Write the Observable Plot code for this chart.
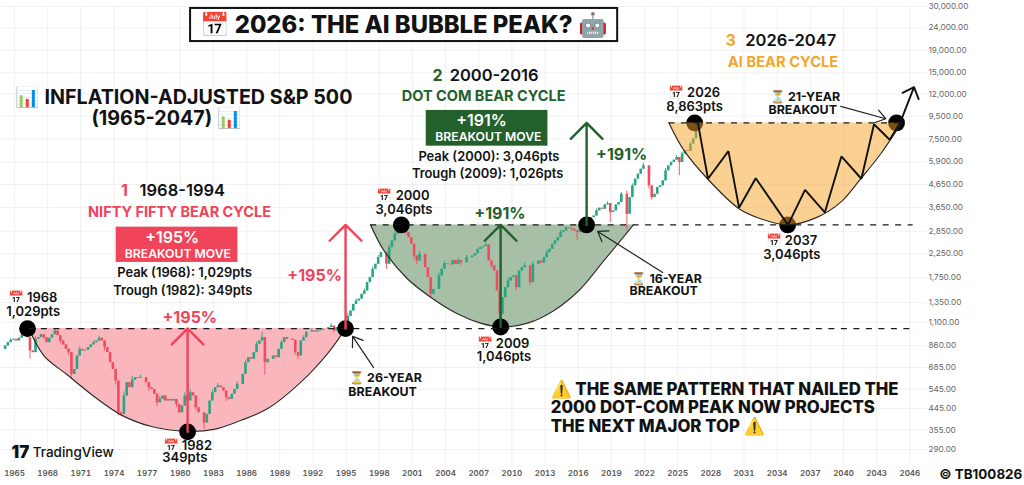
<!DOCTYPE html>
<html>
<head>
<meta charset="utf-8">
<script src="https://cdn.jsdelivr.net/npm/d3@7"></script>
<script src="https://cdn.jsdelivr.net/npm/@observablehq/plot@0.6"></script>
<style>
html,body{margin:0;padding:0;background:#fff}
svg{display:block}
</style>
</head>
<body>
<div id="chart"></div>
<script>
const yTicks = [30000,24000,19000,15000,12000,9500,7500,5900,4650,3650,2850,2250,1750,1350,1100,860,685,545,445,355,290];
const xTicks = [1965,1968,1971,1974,1977,1980,1983,1986,1989,1992,1995,1998,2001,2004,2007,2010,2013,2016,2019,2022,2025,2028,2031,2034,2037,2040,2043,2046];

const firstQuarter = 1963.9;
const closes = [
828,858,888,910,920,904,930,956,965,936,814,800,920,936,965,936,888,930,965,1004,
956,904,867,828,800,637,671,772,828,814,820,843,867,888,904,930,904,843,800,720,
671,594,426,419,508,584,554,600,615,610,615,615,584,554,544,517,473,490,508,482,
490,482,490,465,426,457,508,482,526,508,449,426,426,383,419,482,526,554,564,554,
535,499,490,517,544,574,574,637,720,759,746,800,873,904,936,720,746,746,772,759,
828,888,936,920,920,910,800,772,904,936,992,992,1004,992,1004,1012,1022,1022,1040,1057,
1004,1040,1004,1022,1057,1170,1237,1325,1373,1400,1473,1525,1665,1755,1915,2017,2163,2280,2280,2017,
2402,2576,2762,2810,2910,2860,2810,2667,2487,2200,2089,2240,2240,1948,1755,1473,1550,1550,1785,1915,
2030,2017,2005,2100,2017,2100,2050,2050,2163,2163,2200,2255,2360,2402,2430,2470,2089,1985,1880,1525,
1194,1420,1579,1694,1755,1785,1579,1880,1948,1985,1985,1665,2017,2017,2089,2040,2163,2280,2360,2487,
2576,2667,2810,2860,2962,2940,2910,2860,2810,2910,3015,3067,3176,3289,3345,3528,3630,3590,3757,3810,
3465,3528,3757,3850,4202,4202,3406,4057,4585,4920,5183,5460,5655,5655,4585,4057,4202,4506,4585,4832,
5367,5655,5860,6000,6173,5860,6393,6620,6570,7100,7500,8400
];
const lowWicks = [[10,748],[15,915],[21,880],[24,775],[25,615],[37,815],[41,570],[42,412],[53,535],[56,455],[63,450],[70,435],[73,358],[81,480],[95,631],[106,780],[107,746],[120,985],[139,1915],[146,2740],[149,2120],[150,2010],[155,1420],[166,1990],[177,1930],[180,1046],[186,1530],[191,1620],[206,2850],[208,2576],[220,3120],[226,2860],[234,4430],[235,3950],[245,5100]];
const highWicks = [[3,925],[7,985],[12,945],[19,1030],[28,850],[33,905],[35,950],[44,530],[47,625],[50,632],[57,505],[66,525],[68,545],[76,540],[78,580],[85,590],[88,740],[92,895],[94,992],[101,910],[109,955],[112,1030],[119,1085],[125,1210],[128,1400],[131,1560],[134,1960],[136,2210],[140,2460],[142,2830],[144,2990],[151,2310],[158,1840],[160,2080],[165,2150],[168,2210],[175,2540],[183,1750],[189,2050],[192,2080],[197,2340],[202,2880],[210,3070],[212,3240],[215,3600],[219,3880],[224,4280],[226,4351],[228,4680],[232,5800],[240,5500],[244,6300],[246,6520],[249,7250]];

const bowl1 = [[1966.30,1029],[1967.65,776],[1969.77,634],[1972.48,493],[1974.59,418],[1977.31,370],[1980.63,351],[1983.04,358],[1985.45,393],[1987.87,444],[1990.88,586],[1993.30,790],[1994.95,1029]];
const bowl2 = [[1997.22,3046],[1998.42,2331],[2000.54,1734],[2002.65,1429],[2005.06,1202],[2007.17,1089],[2008.98,1046],[2011.40,1089],[2013.81,1244],[2016.22,1562],[2018.33,2100],[2019.84,2589],[2020.99,3046]];
const bowl3 = [[2024.21,8863],[2025.57,6645],[2027.69,4941],[2030.55,3610],[2032.51,3250],[2034.98,3046],[2037.64,3304],[2039.75,3866],[2041.56,4941],[2043.37,6420],[2045.24,8863]];
const zigzag = [[2026.84,8800],[2027.74,4941],[2029.59,6600],[2030.55,3650],[2032.06,4970],[2034.98,3046],[2036.52,4400],[2038.31,3472],[2039.81,6240],[2041.62,4941],[2042.76,8745],[2044.18,7430],[2045.12,8863]];
const pivots = [[1966.18,1029],[1980.66,349],[1994.95,1029],[2000.0,3046],[2008.98,1046],[2016.76,3046],[2026.54,8863],[2034.95,3046],[2044.8,8863]];

const redArrows = [[1980.66,349,1980.66,1029],[1994.95,1029,1994.95,3046]];
const greenArrows = [[2008.98,1046,2008.98,3046],[2016.76,3046,2016.76,8863]];
const thinArrows = [[1997.49,684,1995.59,948],[2023.64,1852,2017.76,2845],[2039.75,10535,2043.82,9263]];
const necks = [[1966.3,1029,2046.6],[1997.22,3046,2046.3],[2024.21,8863,2045.2]];

const headline = [[2000.20,24586,"📅 2026: THE AI BUBBLE PEAK? 🤖"]];
const subhead = [[1980.30,11490,"📊 INFLATION-ADJUSTED S&P 500"],[1978.76,9263,"(1965-2047) 📊"]];
const warning = [[2013.51,542,"⚠️ THE SAME PATTERN THAT NAILED THE"],[2013.51,451,"2000 DOT-COM PEAK NOW PROJECTS"],[2013.51,370,"THE NEXT MAJOR TOP ⚠️"]];
const cycleYears = [[1980.18,4338,"1968-1994"],[2008.39,14576,"2000-2016"],[2035.23,20880,"2026-2047"]];
const redLabels = [[1974.95,4338,"1",16],[1979.93,3461,"NIFTY FIFTY BEAR CYCLE",14.5],[1992.15,1795,"+195%",16],[1980.86,1147,"+195%",16]];
const greenLabels = [[2003.28,14576,"2",16],[2007.44,11700,"DOT COM BEAR CYCLE",14.5],[2019.93,6353,"+191%",16],[2008.92,3425,"+191%",16]];
const orangeLabels = [[2029.8,20880,"3",16],[2034.53,16655,"AI BEAR CYCLE",14.7]];
const whiteBig = [[1979.27,2652,"+195%"],[2007.26,9033,"+191%"]];
const whiteSmall = [[1979.78,2252,"BREAKOUT MOVE"],[2007.87,7637,"BREAKOUT MOVE"]];
const stats = [[1980.38,1846,"Peak (1968): 1,029pts"],[1980.23,1523,"Trough (1982): 349pts"],[2007.92,6193,"Peak (2000): 3,046pts"],[2007.80,5207,"Trough (2009): 1,026pts"]];
const pivotLabels = [[1966.63,1415,"📅 1968"],[1966.69,1231,"1,029pts"],[1980.63,302.5,"📅 1982"],[1980.41,265,"349pts"],[2000.14,4117,"📅 2000"],[2000.23,3582,"3,046pts"],[2009.19,880,"📅 2009"],[2009.28,768,"1,046pts"],[2026.47,12110,"📅 2026"],[2026.53,10535,"8,863pts"],[2035.29,2570,"📅 2037"],[2035.32,2235,"3,046pts"]];
const breakoutLabels = [[1998.57,616,"⏳ 26-YEAR"],[1998.30,532,"BREAKOUT"],[2024.0,1734,"⏳ 16-YEAR"],[2023.73,1523,"BREAKOUT"],[2036.52,11613,"⏳ 21-YEAR"],[2036.31,10104,"BREAKOUT"]];
const redBoxes = [[1974.20,2976,1985.21,2057]];
const greenBoxes = [[2002.25,10104,2013.26,6950]];
const titleBox = [[1980.93,29390,2019.57,20785]];

const C = {red:"#ef4459",green:"#23602b",orange:"#f4a62a",up:"#2aa583",down:"#ee4d5f",ink:"#121212"};
const FONT = "Inter, 'Liberation Sans', sans-serif";

const lowMap = new Map(lowWicks), highMap = new Map(highWicks);
const candles = closes.map((c,i)=>{
  const open = i?closes[i-1]:c;
  return {t:firstQuarter+i/4,open,close:c,low:lowMap.get(i)??Math.min(open,c),high:highMap.get(i)??Math.max(open,c)};
});
const ups = candles.filter(d=>d.close>=d.open);
const downs = candles.filter(d=>d.close<d.open);

const X=d=>d[0], Y=d=>d[1], T=d=>d[2];
const label=(rows,o)=>Plot.text(rows,{x:X,y:Y,text:T,lineAnchor:"middle",textAnchor:"middle",fontFamily:FONT,fill:C.ink,...o});
const bowl=(rows,neck,fill,extra={})=>Plot.areaY(rows,{x:X,y1:()=>neck,y2:Y,curve:"catmull-rom",fill,...extra});
const edge=(rows)=>Plot.line(rows,{x:X,y:Y,curve:"catmull-rom",stroke:"#2f2a26",strokeWidth:1.2});
const box=(rows,o)=>Plot.rect(rows,{x1:d=>d[0],y1:d=>d[1],x2:d=>d[2],y2:d=>d[3],...o});
const arrow=(rows,o)=>Plot.arrow(rows,{x1:d=>d[0],y1:d=>d[1],x2:d=>d[2],y2:d=>d[3],...o});

const chart = Plot.plot({
  width:1024,height:485,
  marginLeft:0,marginRight:97,marginTop:6,marginBottom:22,
  style:{fontFamily:FONT,background:"#fff",overflow:"visible"},
  x:{domain:[1963.733,2047.6],range:[0,927]},
  y:{type:"log",domain:[250.5,30000],range:[463,6],axis:null},
  marks:[
    Plot.gridX(xTicks,{stroke:"#dfe1e6",strokeOpacity:.45}),
    Plot.gridY(yTicks,{stroke:"#dfe1e6",strokeOpacity:.45}),
    Plot.axisX(xTicks,{anchor:"bottom",tickSize:0,tickPadding:7,tickFormat:d=>String(d),fontSize:8,fontWeight:600,fill:"#555",label:null}),
    Plot.text(yTicks,{frameAnchor:"right",dx:1,y:d=>d,text:d=>d3.format(",.2f")(d),textAnchor:"start",lineAnchor:"middle",fontSize:8.2,fill:"#666",fontFamily:FONT}),
    bowl(bowl1,1029,"#f9b6bc"),
    bowl(bowl2,3046,"#a6bfa6"),
    Plot.ruleX(ups,{x:"t",y1:"low",y2:"high",stroke:C.up,strokeWidth:.9}),
    Plot.ruleX(downs,{x:"t",y1:"low",y2:"high",stroke:C.down,strokeWidth:.9}),
    Plot.ruleX(ups,{x:"t",y1:"open",y2:"close",stroke:C.up,strokeWidth:2.6}),
    Plot.ruleX(downs,{x:"t",y1:"open",y2:"close",stroke:C.down,strokeWidth:2.6}),
    edge(bowl1),edge(bowl2),
    Plot.dot(pivots,{x:X,y:Y,r:8.4,fill:"#000",stroke:"none"}),
    bowl(bowl3,8863,"#f7a428",{fillOpacity:.5}),
    edge(bowl3),
    Plot.ruleY(necks,{y:Y,x1:X,x2:d=>d[2],stroke:"#1a1a1a",strokeWidth:1.2,strokeDasharray:"6,6.5"}),
    Plot.line(zigzag,{x:X,y:Y,stroke:"#111",strokeWidth:1.9,strokeLinejoin:"miter"}),
    arrow([[2045.12,8863,2046.38,12890]],{stroke:"#111",strokeWidth:1.9,headAngle:85,headLength:14}),
    arrow(redArrows,{stroke:C.red,strokeWidth:2.4,headAngle:90,headLength:14}),
    arrow(greenArrows,{stroke:C.green,strokeWidth:2.4,headAngle:90,headLength:14}),
    arrow(thinArrows,{stroke:"#222",strokeWidth:1.2,headAngle:70,headLength:14}),
    box(titleBox,{fill:"#fff",stroke:"#111",strokeWidth:2}),
    box(redBoxes,{fill:C.red}),
    box(greenBoxes,{fill:C.green}),
    label(headline,{fontSize:23.8,fontWeight:800}),
    label(subhead,{fontSize:19.7,fontWeight:700}),
    label(warning,{fontSize:16.8,fontWeight:800,textAnchor:"start"}),
    label(cycleYears,{fontSize:16.5,fontWeight:600}),
    label(redLabels,{fontSize:d=>d[3],fontWeight:700,fill:C.red}),
    label(greenLabels,{fontSize:d=>d[3],fontWeight:700,fill:C.green}),
    label(orangeLabels,{fontSize:d=>d[3],fontWeight:700,fill:C.orange}),
    label(whiteBig,{fontSize:16,fontWeight:600,fill:"#fff"}),
    label(whiteSmall,{fontSize:12.2,fontWeight:600,fill:"#fff"}),
    label(stats,{fontSize:12.9,fontWeight:600}),
    label(pivotLabels,{fontSize:13,fontWeight:600}),
    label(breakoutLabels,{fontSize:12.4,fontWeight:700}),
    label([[1970.31,282,"TradingView"]],{fontSize:13.5,fontWeight:500}),
    label([[1965.54,282,"17"]],{fontSize:17,fontWeight:900}),
    label([[2052.42,223,"© TB100826"]],{fontSize:13.4,fontWeight:700})
  ]
});
document.getElementById("chart").append(chart);
</script>
</body>
</html>
